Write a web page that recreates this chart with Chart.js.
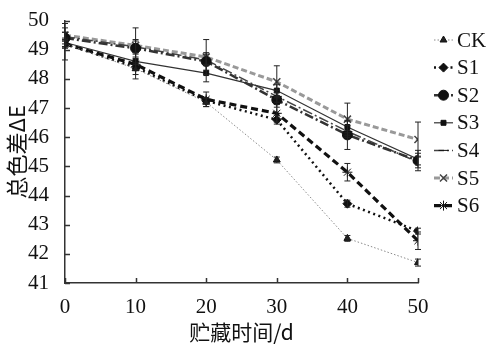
<!DOCTYPE html>
<html>
<head>
<meta charset="utf-8">
<script src="https://cdn.jsdelivr.net/npm/chart.js@4.4.0/dist/chart.umd.min.js"></script>
<style>
  html, body { margin: 0; padding: 0; background: #fff; }
  #wrap { width: 489px; height: 346px; }
</style>
</head>
<body>
<div id="wrap"><canvas id="c" width="489" height="346"></canvas></div>
<script>
// Data
const days = [0, 10, 20, 30, 40, 50];
const seriesNames = ['CK', 'S1', 'S2', 'S3', 'S4', 'S5', 'S6'];
const ck = [49.2, 48.35, 47.2, 45.22, 42.53, 41.7];
const s1 = [49.2, 48.4, 47.25, 46.6, 43.72, 42.78];
const s2 = [49.4, 49.05, 48.6, 47.28, 46.08, 45.2];
const s3 = [49.25, 48.6, 48.2, 47.6, 46.35, 45.25];
const s4 = [49.45, 49.1, 48.65, 47.4, 46.2, 45.15];
const s5 = [49.5, 49.15, 48.75, 47.9, 46.62, 45.92];
const s6 = [49.2, 48.5, 47.3, 46.82, 44.8, 42.45];
// error bars (+/-)
const ckErr = [0.55, 0.35, 0.15, 0.1, 0.1, 0.12];
const s1Err = [0.1, 0.1, 0.1, 0.15, 0.12, 0.1];
const s2Err = [0.2, 0.3, 0.3, 0.25, 0.5, 0.35];
const s3Err = [0.15, 0.3, 0.3, 0.2, 0.2, 0.2];
const s4Err = [0.15, 0.2, 0.2, 0.2, 0.2, 0.2];
const s5Err = [0.4, 0.6, 0.6, 0.55, 0.55, 0.6];
const s6Err = [0.15, 0.35, 0.25, 0.3, 0.3, 0.3];
const yTicks = [41, 42, 43, 44, 45, 46, 47, 48, 49, 50];

const serif = '"Liberation Serif", "DejaVu Serif", serif';

function pts(arr) { return days.map((d, i) => ({ x: d, y: arr[i] })); }

const values = [ck, s1, s2, s3, s4, s5, s6];
const errors = [ckErr, s1Err, s2Err, s3Err, s4Err, s5Err, s6Err];
const styles = [
  { color: '#8a8a8a', width: 1, dash: [1.5, 2], point: 'triangle', r: 4, fill: '#222' },
  { color: '#111', width: 2.5, dash: [2, 3.5], point: 'rectRot', r: 4.5, fill: '#111' },
  { color: '#333', width: 2.5, dash: [9, 3, 2, 3], point: 'circle', r: 5, fill: '#111' },
  { color: '#333', width: 1.2, dash: [], point: 'rect', r: 3.5, fill: '#111' },
  { color: '#444', width: 1.5, dash: [10, 3, 2, 3], point: 'line', r: 5, fill: '#111' },
  { color: '#999', width: 3, dash: [6, 3], point: 'crossRot', r: 5, fill: '#555' },
  { color: '#111', width: 3.2, dash: [7, 4], point: 'star', r: 5, fill: '#111' }
];

const datasets = seriesNames.map((name, i) => ({
  label: name,
  data: pts(values[i]),
  errs: errors[i],
  borderColor: styles[i].color,
  borderWidth: styles[i].width,
  borderDash: styles[i].dash,
  pointStyle: styles[i].point,
  pointRadius: styles[i].r,
  pointBackgroundColor: styles[i].fill,
  pointBorderColor: i === 5 ? '#444' : '#111',
  pointBorderWidth: i === 5 ? 1.5 : 1,
  fill: false,
  tension: 0
}));

// error bars drawn with the chart scales
const errorBars = {
  id: 'errorBars',
  afterDatasetsDraw(chart) {
    const ctx = chart.ctx;
    const ys = chart.scales.y;
    ctx.save();
    ctx.strokeStyle = '#222';
    ctx.lineWidth = 1;
    chart.data.datasets.forEach((ds, i) => {
      const meta = chart.getDatasetMeta(i);
      meta.data.forEach((p, j) => {
        const v = ds.data[j].y, e = ds.errs[j];
        const yt = ys.getPixelForValue(v + e), yb = ys.getPixelForValue(v - e);
        ctx.beginPath();
        ctx.moveTo(p.x, yt); ctx.lineTo(p.x, yb);
        ctx.moveTo(p.x - 3, yt); ctx.lineTo(p.x + 3, yt);
        ctx.moveTo(p.x - 3, yb); ctx.lineTo(p.x + 3, yb);
        ctx.stroke();
      });
    });
    ctx.restore();
  }
};

// inward tick marks
const innerTicks = {
  id: 'innerTicks',
  afterDraw(chart) {
    const ctx = chart.ctx;
    const xs = chart.scales.x, ys = chart.scales.y;
    const a = chart.chartArea;
    ctx.save();
    ctx.strokeStyle = '#333';
    ctx.lineWidth = 1.5;
    ctx.beginPath();
    yTicks.forEach(t => {
      const y = Math.round(ys.getPixelForValue(t)) + 0.5;
      ctx.moveTo(a.left, y); ctx.lineTo(a.left + 5, y);
    });
    days.forEach(d => {
      const x = Math.round(xs.getPixelForValue(d)) + 0.5;
      ctx.moveTo(x, a.bottom); ctx.lineTo(x, a.bottom - 5);
    });
    ctx.stroke();
    ctx.restore();
  }
};

// legend on the right: line sample + marker + name
const sideLegend = {
  id: 'sideLegend',
  afterDraw(chart) {
    const ctx = chart.ctx;
    ctx.save();
    chart.data.datasets.forEach((ds, i) => {
      const y = 40 + i * 27.6;
      ctx.strokeStyle = ds.borderColor;
      ctx.lineWidth = ds.borderWidth;
      ctx.setLineDash(ds.borderDash);
      ctx.beginPath();
      ctx.moveTo(434, y); ctx.lineTo(453, y);
      ctx.stroke();
      ctx.setLineDash([]);
      ctx.fillStyle = ds.pointBackgroundColor;
      ctx.strokeStyle = ds.pointBorderColor;
      ctx.lineWidth = ds.pointBorderWidth;
      Chart.helpers.drawPoint(ctx, { pointStyle: ds.pointStyle, radius: ds.pointRadius, rotation: 0, borderWidth: ds.pointBorderWidth }, 443.5, y);
      ctx.fillStyle = '#111';
      ctx.font = '21px ' + serif;
      ctx.textBaseline = 'middle';
      ctx.textAlign = 'left';
      ctx.fillText(ds.label, 457, y + 1);
    });
    ctx.restore();
  }
};

new Chart(document.getElementById('c'), {
  type: 'line',
  data: { datasets },
  options: {
    responsive: false,
    animation: false,
    layout: { padding: { top: 9, right: 71, left: 0, bottom: 0 } },
    plugins: { legend: { display: false }, tooltip: { enabled: false } },
    scales: {
      x: {
        type: 'linear', min: 0, max: 50,
        afterBuildTicks: s => { s.ticks = days.map(v => ({ value: v })); },
        afterFit: s => { s.height = 63; },
        grid: { display: false },
        border: { color: '#333', width: 1.5 },
        ticks: { color: '#111', padding: 4, font: { family: serif, size: 21 } },
        title: { display: true, text: '贮藏时间/d', color: '#111', padding: { top: 0, bottom: 1 },
                 font: { family: '"Noto Sans CJK SC", sans-serif', size: 21 } }
      },
      y: {
        min: 41, max: 50,
        afterBuildTicks: s => { s.ticks = yTicks.map(v => ({ value: v })); },
        afterFit: s => { s.width = 65; },
        grid: { display: false },
        border: { color: '#333', width: 1.5 },
        ticks: { color: '#111', padding: 8, font: { family: serif, size: 21 } },
        title: { display: true, text: '总色差ΔE', color: '#111', padding: { top: 3, bottom: 0 },
                 font: { family: '"Noto Sans CJK SC", sans-serif', size: 22 } }
      }
    }
  },
  plugins: [errorBars, innerTicks, sideLegend]
});
</script>
</body>
</html>
